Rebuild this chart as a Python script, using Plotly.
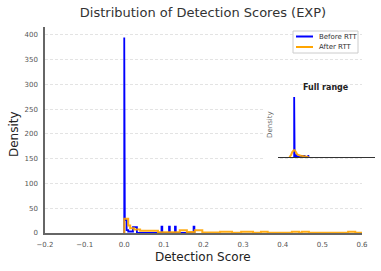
import plotly.graph_objects as go

# ---- data ----
BLUE_LABEL = "Before RTT"
ORANGE_LABEL = "After RTT"

blue_edges = [0.000, 0.0015, 0.006, 0.010, 0.022, 0.032, 0.094, 0.096, 0.113, 0.115, 0.128, 0.130, 0.175, 0.177]
blue_density = [395, 26, 6, 3, 12, 0, 13, 0, 13, 0, 13, 0, 13]

orange_edges = [0.000, 0.010, 0.015, 0.025, 0.040, 0.085, 0.140, 0.158, 0.178, 0.197, 0.242, 0.272,
                0.295, 0.325, 0.345, 0.362, 0.423, 0.441, 0.448, 0.466, 0.565, 0.583, 0.600]
orange_density = [29, 15, 9.5, 7, 4.5, 1.5, 5.5, 2, 5.5, 1, 2.5, 0.3, 2.5, 0.3, 2.5, 0.3, 2.5, 0.3,
                  2.5, 0.3, 2.5, 0.3]

inset_orange_x = [-0.06, -0.04, -0.02, 0.0, 0.02, 0.04, 0.07, 0.10, 0.14, 0.18]
inset_orange_y = [0, 12, 35, 46, 34, 16, 10, 7, 4, 0]

x_ticks = [-0.2, -0.1, 0.0, 0.1, 0.2, 0.3, 0.4, 0.5, 0.6]
y_ticks = [0, 50, 100, 150, 200, 250, 300, 350, 400]

BLUE = "#0000ff"
ORANGE = "#ffa500"
FONT = "DejaVu Sans"


def step_path(edges, heights):
    xs = [edges[0]]
    ys = [0]
    for i, h in enumerate(heights):
        xs += [edges[i], edges[i + 1]]
        ys += [h, h]
    xs.append(edges[-1])
    ys.append(0)
    return xs, ys


bx, by = step_path(blue_edges, blue_density)
ox, oy = step_path(orange_edges, orange_density)

fig = go.Figure()
fig.add_trace(go.Scatter(x=bx, y=by, mode="lines", line=dict(color=BLUE, width=1.8),
                         name=BLUE_LABEL, showlegend=False))
fig.add_trace(go.Scatter(x=ox, y=oy, mode="lines", line=dict(color=ORANGE, width=2),
                         opacity=0.9, name=ORANGE_LABEL, showlegend=False))
# inset
fig.add_trace(go.Scatter(x=bx, y=by, mode="lines", line=dict(color=BLUE, width=1.8),
                         xaxis="x2", yaxis="y2", showlegend=False))
fig.add_trace(go.Scatter(x=inset_orange_x, y=inset_orange_y, mode="lines",
                         line=dict(color=ORANGE, width=2, shape="spline"), opacity=0.9,
                         xaxis="x2", yaxis="y2", showlegend=False))

W, H = 381, 271
LEFT, RIGHT, TOP, BOTTOM = 45, 375, 27, 233  # plot area in window pixels
ML = LEFT
MT = TOP
MR = W - RIGHT
MB = H - BOTTOM
PW = RIGHT - LEFT
PH = BOTTOM - TOP


def px(xp):
    return (xp - LEFT) / PW


def py(yp):
    return (BOTTOM - yp) / PH


fig.update_layout(
    width=W, height=H,
    autosize=False,
    margin=dict(l=ML, r=MR, t=MT, b=MB, pad=0, autoexpand=False),
    showlegend=False,
    paper_bgcolor="white", plot_bgcolor="white",
    font=dict(family=FONT, color="#555"),
    hovermode=False,
    title=dict(text="Distribution of Detection Scores (EXP)", x=203 / W, xanchor="center",
               y=1 - 12 / H, yanchor="middle", font=dict(size=13, color="#333", family=FONT)),
    xaxis=dict(domain=[0, px(362)], range=[-0.2, 0.6], tickvals=x_ticks, automargin=False,
               ticktext=[("\u2212" if v < 0 else "") + f"{abs(v):.1f}" for v in x_ticks],
               showgrid=False, zeroline=False, showline=True, linecolor="#666", linewidth=1.5,
               ticks="outside", ticklen=4, tickcolor="rgba(0,0,0,0)",
               tickfont=dict(size=7, color="#555")),
    yaxis=dict(domain=[0, 1], range=[0, 416], tickvals=y_ticks, showgrid=True, automargin=False,
               gridcolor="#e3e3e3", gridwidth=1, griddash="3px,2px", zeroline=False,
               showline=True, linecolor="#666", linewidth=1.5,
               ticks="outside", ticklen=4, tickcolor="rgba(0,0,0,0)",
               tickfont=dict(size=7, color="#555")),
    xaxis2=dict(domain=[px(278), 1.0], range=[-0.2, 1.0], anchor="y2", showticklabels=False,
                showgrid=False, zeroline=False, showline=True, linecolor="#333", linewidth=1.2,
                ticks="", automargin=False),
    yaxis2=dict(domain=[py(157), py(94)], range=[0, 415], anchor="x2", showticklabels=False,
                showgrid=False, zeroline=False, showline=True, linecolor="#333", linewidth=1.2,
                ticks="", automargin=False),
)

shapes = [
    dict(type="rect", xref="paper", yref="paper", x0=px(264), x1=px(278), y0=py(160), y1=py(94),
         fillcolor="white", line=dict(width=0), layer="above"),
    dict(type="rect", xref="paper", yref="paper", x0=px(293), x1=px(358), y0=py(53), y1=py(31),
         fillcolor="rgba(255,255,255,0.85)", line=dict(color="#cccccc", width=1), layer="above"),
    dict(type="line", xref="paper", yref="paper", x0=px(296), x1=px(313), y0=py(36.5), y1=py(36.5),
         line=dict(color=BLUE, width=2), layer="above"),
    dict(type="line", xref="paper", yref="paper", x0=px(296), x1=px(313), y0=py(47), y1=py(47),
         line=dict(color=ORANGE, width=2), layer="above"),
]
fig.update_layout(shapes=shapes)

annotations = [
    dict(text=BLUE_LABEL, x=px(316.5), y=py(36.5), xref="paper", yref="paper", xanchor="left",
         yanchor="middle", showarrow=False, font=dict(size=7, color="#333", family=FONT)),
    dict(text=ORANGE_LABEL, x=px(316.5), y=py(47), xref="paper", yref="paper", xanchor="left",
         yanchor="middle", showarrow=False, font=dict(size=7, color="#333", family=FONT)),
    dict(text="Detection Score", x=px(203), y=py(257), xref="paper", yref="paper",
         xanchor="center", yanchor="middle", showarrow=False,
         font=dict(size=12, color="#222", family=FONT)),
    dict(text="Density", x=px(14), y=py(134), xref="paper", yref="paper", textangle=-90,
         xanchor="center", yanchor="middle", showarrow=False,
         font=dict(size=12, color="#222", family=FONT)),
    dict(text="<b>Full range</b>", x=px(326), y=py(87), xref="paper", yref="paper",
         xanchor="center", yanchor="middle", showarrow=False,
         font=dict(size=8, color="#222", family=FONT)),
    dict(text="Density", x=px(270), y=py(125), xref="paper", yref="paper", textangle=-90,
         xanchor="center", yanchor="middle", showarrow=False,
         font=dict(size=7, color="#666", family=FONT)),
]
fig.update_layout(annotations=annotations)

# remove the page's default 8px body margin so the figure sits at the window's corner
fig.write_html("out.html", config={"displayModeBar": False},
               post_script="document.body.style.margin='0';")
